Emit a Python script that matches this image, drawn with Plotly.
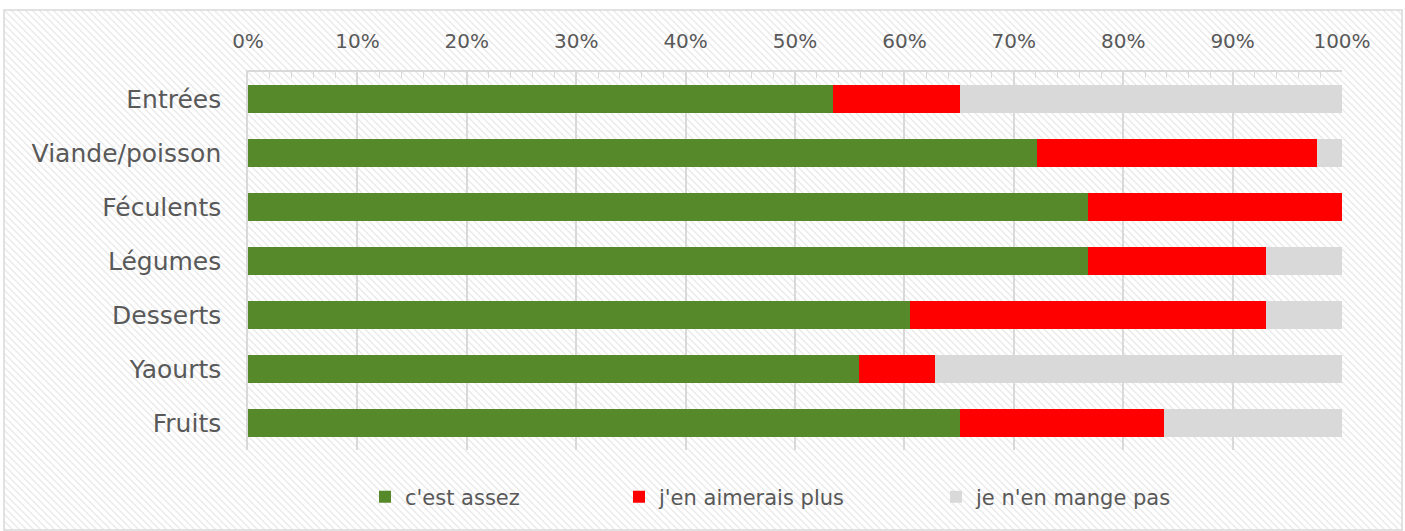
import base64
import plotly.graph_objects as go

categories = ["Entrées", "Viande/poisson", "Féculents", "Légumes", "Desserts", "Yaourts", "Fruits"]
assez = [53.49, 72.09, 76.74, 76.74, 60.47, 55.81, 65.12]
plus = [11.63, 25.58, 23.26, 16.28, 32.56, 6.98, 18.60]
pas = [34.88, 2.33, 0.0, 6.98, 6.98, 37.21, 16.28]
series_names = ["c'est assez", "j'en aimerais plus", "je n'en mange pas"]
series_colors = ["#568929", "#FF0000", "#D9D9D9"]
tick_vals = list(range(0, 101, 10))
tick_text = [f"{v}%" for v in tick_vals]

W, H = 1405, 531
L, R, T, B = 248, 63, 72, 81
pw, ph = W - L - R, H - T - B

FONT = "DejaVu Sans"
GREY = "#595959"

def px2x(px):
    return (px - L) / pw

def py2y(py):
    return (H - B - py) / ph

legend_ids = ["legend", "legend2", "legend3"]
legend_text_px = [404, 658, 975]

fig = go.Figure()
for name, vals, col, lid in zip(series_names, [assez, plus, pas], series_colors, legend_ids):
    fig.add_trace(go.Bar(
        y=categories, x=vals, name=name, orientation="h",
        marker=dict(color=col, line=dict(width=0)),
        hoverinfo="x+y+name", legend=lid,
    ))

# hatched background as an SVG image
fx0, fy0, fx1, fy1 = 4, 10, 1402, 530
svg = f'''<svg xmlns="http://www.w3.org/2000/svg" width="{fx1-fx0}" height="{fy1-fy0}" preserveAspectRatio="none">
<defs><pattern id="p" patternUnits="userSpaceOnUse" width="7" height="7">
<rect width="7" height="7" fill="white"/>
<path d="M-1,-1 L8,8 M-4,3 L1,8 M3,-4 L8,1" stroke="#e9e9e9" stroke-width="1.3"/>
</pattern></defs>
<rect width="100%" height="100%" fill="url(#p)"/>
</svg>'''
src = "data:image/svg+xml;base64," + base64.b64encode(svg.encode()).decode()

fig.add_layout_image(dict(
    source=src, xref="paper", yref="paper",
    x=px2x(fx0), y=py2y(fy0),
    sizex=(fx1 - fx0) / pw, sizey=(fy1 - fy0) / ph,
    sizing="stretch", xanchor="left", yanchor="top", layer="below",
))
fig.add_shape(type="rect", xref="paper", yref="paper",
              x0=px2x(fx0), x1=px2x(fx1), y0=py2y(fy1), y1=py2y(fy0),
              line=dict(color="#d9d9d9", width=1.5), layer="below")

legend_common = dict(
    orientation="h", yanchor="middle", y=py2y(497), xanchor="left",
    font=dict(size=21, color=GREY, family=FONT), bgcolor="rgba(0,0,0,0)",
    borderwidth=0, itemwidth=30,
)
legends = {}
for lid, tx in zip(legend_ids, legend_text_px):
    legends[lid] = dict(legend_common, x=px2x(tx - 39))

fig.update_layout(
    width=W, height=H,
    margin=dict(l=L, r=R, t=T, b=B, autoexpand=False),
    barmode="stack", bargap=0.48,
    paper_bgcolor="white", plot_bgcolor="rgba(0,0,0,0)",
    font=dict(family=FONT, color=GREY, size=20),
    xaxis=dict(
        side="top", range=[0, 100], tickvals=tick_vals, ticktext=tick_text,
        showgrid=True, gridcolor="#d9d9d9", gridwidth=1.5,
        showline=True, linecolor="#d9d9d9", linewidth=1.5,
        ticks="inside", ticklen=6, tickcolor="#d9d9d9",
        minor=dict(dtick=2, ticks="inside", ticklen=6, tickcolor="#d9d9d9", showgrid=False),
        tickfont=dict(size=20, color=GREY, family=FONT), ticklabelstandoff=14,
        zeroline=False, fixedrange=True,
    ),
    yaxis=dict(
        autorange="reversed", showline=True, linecolor="#d9d9d9", linewidth=1.5,
        ticks="", tickfont=dict(size=25, color=GREY, family=FONT), ticklabelstandoff=20,
        showgrid=False, fixedrange=True,
    ),
    showlegend=True,
    **legends,
)

fig.write_html("out.html", config={"displayModeBar": False},
               post_script="document.body.style.margin='0';document.body.style.overflow='hidden';")
